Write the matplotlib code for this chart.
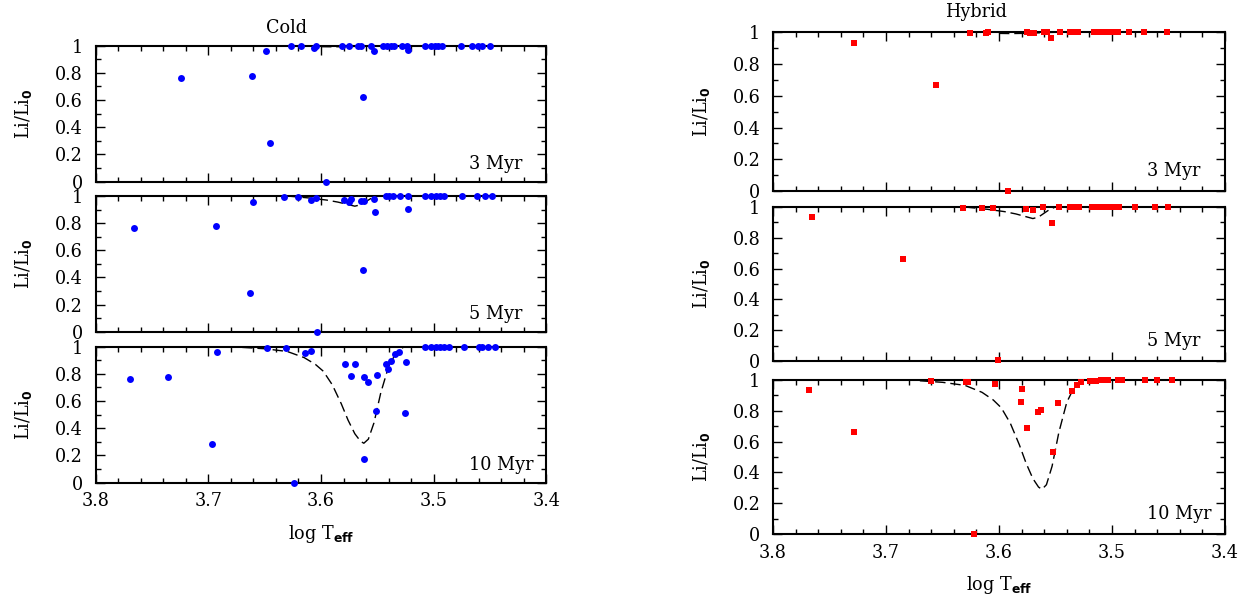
import matplotlib
matplotlib.use("Agg")
import matplotlib.pyplot as plt
from matplotlib.ticker import MultipleLocator, FuncFormatter

plt.rcParams["font.family"] = ["DejaVu Serif"]
plt.rcParams["mathtext.fontset"] = "custom"
plt.rcParams["mathtext.rm"] = "DejaVu Serif"
plt.rcParams["mathtext.bf"] = "DejaVu Sans:bold"

# ---- data: Cold (left column) ----
cold_3_x = [3.7246, 3.661, 3.6485, 3.6456, 3.627, 3.618, 3.6066, 3.6047, 3.5955,
            3.581, 3.575, 3.567, 3.5648, 3.563, 3.556, 3.553, 3.545, 3.541, 3.538,
            3.535, 3.528, 3.5233, 3.5226, 3.508, 3.502, 3.499, 3.496, 3.4925,
            3.4754, 3.466, 3.461, 3.457, 3.450]
cold_3_y = [0.765, 0.779, 0.96, 0.287, 1.0, 1.0, 0.985, 1.0, 0.0,
            1.0, 1.0, 1.0, 1.0, 0.62, 1.0, 0.96, 1.0, 1.0, 1.0,
            1.0, 1.0, 1.0, 0.97, 1.0, 1.0, 1.0, 1.0, 1.0,
            1.0, 1.0, 1.0, 1.0, 1.0]

cold_5_x = [3.7658, 3.6935, 3.663, 3.6608, 3.6326, 3.6206, 3.6085, 3.6047, 3.604,
            3.5797, 3.575, 3.5737, 3.5648, 3.5616, 3.5626, 3.553, 3.552, 3.5426,
            3.5394, 3.5363, 3.530, 3.5226, 3.523, 3.508, 3.502, 3.4982, 3.4944,
            3.4906, 3.4748, 3.4614, 3.4547, 3.4481]
cold_5_y = [0.762, 0.779, 0.283, 0.958, 0.99, 0.993, 0.97, 0.983, 0.0,
            0.973, 0.958, 0.978, 0.963, 0.963, 0.457, 0.978, 0.885, 1.0,
            1.0, 1.0, 1.0, 1.0, 0.904, 1.0, 1.0, 1.0, 1.0,
            1.0, 1.0, 1.0, 1.0, 1.0]

cold_10_x = [3.7699, 3.7357, 3.697, 3.692, 3.6482, 3.6307, 3.6237, 3.6146, 3.6089,
             3.5784, 3.5733, 3.5702, 3.5619, 3.5616, 3.5585, 3.5512, 3.550, 3.5423,
             3.5404, 3.5378, 3.5347, 3.5306, 3.5258, 3.5242, 3.508, 3.502, 3.4982,
             3.4944, 3.4906, 3.4868, 3.4735, 3.4602, 3.457, 3.452, 3.4459]
cold_10_y = [0.762, 0.777, 0.284, 0.958, 0.988, 0.988, 0.0, 0.953, 0.968,
             0.873, 0.784, 0.87, 0.174, 0.775, 0.738, 0.525, 0.792, 0.87,
             0.838, 0.895, 0.946, 0.963, 0.515, 0.885, 1.0, 1.0, 1.0,
             1.0, 1.0, 1.0, 1.0, 1.0, 1.0, 1.0, 1.0]

# ---- data: Hybrid (right column) ----
hyb_3_x = [3.728, 3.6555, 3.6255, 3.6113, 3.6097, 3.592, 3.5751, 3.5726, 3.5693,
           3.5603, 3.5574, 3.5542, 3.5458, 3.537, 3.5339, 3.5297, 3.5161, 3.5129,
           3.508, 3.5032, 3.499, 3.4951, 3.4845, 3.4719, 3.4516]
hyb_3_y = [0.931, 0.666, 0.994, 0.995, 1.0, 0.0, 1.0, 0.994, 0.998,
           1.0, 1.0, 0.962, 1.0, 1.0, 1.0, 1.0, 1.0, 1.0,
           1.0, 1.0, 1.0, 1.0, 1.0, 1.0, 1.0]

hyb_5_x = [3.7652, 3.6848, 3.6316, 3.6152, 3.6055, 3.601, 3.5764, 3.570, 3.5613,
           3.5532, 3.5468, 3.537, 3.534, 3.529, 3.5177, 3.5129, 3.508, 3.5032,
           3.4984, 3.4935, 3.4797, 3.462, 3.450]
hyb_5_y = [0.937, 0.665, 0.996, 0.996, 0.996, 0.004, 0.99, 0.983, 0.997,
           0.898, 1.0, 1.0, 1.0, 1.0, 1.0, 1.0, 1.0, 1.0,
           1.0, 1.0, 1.0, 1.0, 1.0]

hyb_10_x = [3.768, 3.728, 3.6603, 3.629, 3.6274, 3.6223, 3.6032, 3.5806, 3.580,
            3.5748, 3.5652, 3.563, 3.5522, 3.5477, 3.5355, 3.5306, 3.5274, 3.5193,
            3.5145, 3.5097, 3.5065, 3.5032, 3.4951, 3.4913, 3.471, 3.4597, 3.4468]
hyb_10_y = [0.935, 0.662, 0.994, 0.99, 0.99, 0.0, 0.974, 0.859, 0.944,
            0.688, 0.794, 0.805, 0.532, 0.851, 0.929, 0.97, 0.99, 0.995,
            0.996, 0.998, 1.0, 1.0, 1.0, 1.0, 1.0, 1.0, 1.0]

# ---- model curves (dashed) ----
model_3_x = [3.600, 3.590, 3.580, 3.570, 3.560, 3.550, 3.500, 3.450, 3.400]
model_3_y = [0.993, 0.992, 0.993, 0.995, 0.998, 1.0, 1.0, 1.0, 1.0]

model_5_x = [3.630, 3.610, 3.595, 3.585, 3.575, 3.570, 3.565, 3.560, 3.555,
             3.550, 3.500, 3.400]
model_5_y = [1.0, 0.985, 0.97, 0.955, 0.935, 0.925, 0.935, 0.96, 0.985,
             1.0, 1.0, 1.0]

model_10_x = [3.670, 3.650, 3.630, 3.615, 3.605, 3.598, 3.590, 3.582, 3.576,
              3.570, 3.565, 3.562, 3.558, 3.553, 3.547, 3.540, 3.535, 3.530,
              3.526, 3.500, 3.450, 3.400]
model_10_y = [0.995, 0.985, 0.965, 0.92, 0.87, 0.82, 0.72, 0.58, 0.46,
              0.36, 0.305, 0.29, 0.32, 0.44, 0.66, 0.855, 0.93, 0.98,
              1.0, 1.0, 1.0, 1.0]

ages = ["3 Myr", "5 Myr", "10 Myr"]
cold = [(cold_3_x, cold_3_y), (cold_5_x, cold_5_y), (cold_10_x, cold_10_y)]
hybrid = [(hyb_3_x, hyb_3_y), (hyb_5_x, hyb_5_y), (hyb_10_x, hyb_10_y)]
models = [(model_3_x, model_3_y), (model_5_x, model_5_y), (model_10_x, model_10_y)]

FS = 12.7


def fmt_y(v, pos):
    return "%g" % round(v, 2)


def panel(fig, rect, pts, model, age, marker, color, msize, bottom):
    ax = fig.add_axes(rect)
    ax.plot(model[0], model[1], color="black", lw=1.0, dashes=(7.5, 3.5), zorder=2)
    ax.plot(pts[0], pts[1], linestyle="none", marker=marker, color=color,
            markersize=msize, markeredgewidth=0, clip_on=False, zorder=5)
    ax.set_xlim(3.8, 3.4)
    ax.set_ylim(0, 1)
    ax.xaxis.set_major_locator(MultipleLocator(0.1))
    ax.xaxis.set_minor_locator(MultipleLocator(0.02))
    ax.yaxis.set_major_locator(MultipleLocator(0.2))
    ax.yaxis.set_minor_locator(MultipleLocator(0.1))
    ax.yaxis.set_major_formatter(FuncFormatter(fmt_y))
    ax.tick_params(which="both", direction="in", top=True, right=True,
                   labelsize=FS, width=1.0)
    ax.tick_params(which="major", length=6.5)
    ax.tick_params(which="minor", length=3.5)
    ax.tick_params(axis="y", pad=9)
    ax.tick_params(axis="x", pad=7)
    for s in ax.spines.values():
        s.set_linewidth(1.5)
    if not bottom:
        ax.tick_params(axis="x", labelbottom=False)
    else:
        ax.set_xlabel(r"log T$_{\mathbf{eff}}$", fontsize=FS, labelpad=9)
    ax.set_ylabel(r"Li/Li$_{\mathbf{0}}$", fontsize=FS, labelpad=15)
    ax.text(0.828, 0.095, age, transform=ax.transAxes, fontsize=FS,
            ha="left", va="baseline")
    return ax


def main():
    fig = plt.figure(figsize=(12.52, 5.99), dpi=100)

    left_rects = [[0.0764, 0.6967, 0.360, 0.227],
                  [0.0764, 0.4462, 0.360, 0.2266],
                  [0.0764, 0.1942, 0.360, 0.227]]
    right_rects = [[0.6174, 0.6811, 0.361, 0.265],
                   [0.6174, 0.3973, 0.361, 0.2571],
                   [0.6174, 0.1085, 0.361, 0.2571]]

    for i in range(3):
        ax = panel(fig, left_rects[i], cold[i], models[i], ages[i],
                   "o", "#0000ff", 5.0, i == 2)
        if i == 0:
            ax.text(0.4236, 1.096, "Cold", transform=ax.transAxes,
                    fontsize=FS, ha="center", va="baseline")
    for i in range(3):
        ax = panel(fig, right_rects[i], hybrid[i], models[i], ages[i],
                   "s", "#ff0000", 5.0, i == 2)
        if i == 0:
            ax.text(0.45, 1.098, "Hybrid", transform=ax.transAxes,
                    fontsize=FS, ha="center", va="baseline")

    fig.savefig("out.png", dpi=100)


if __name__ == "__main__":
    main()
